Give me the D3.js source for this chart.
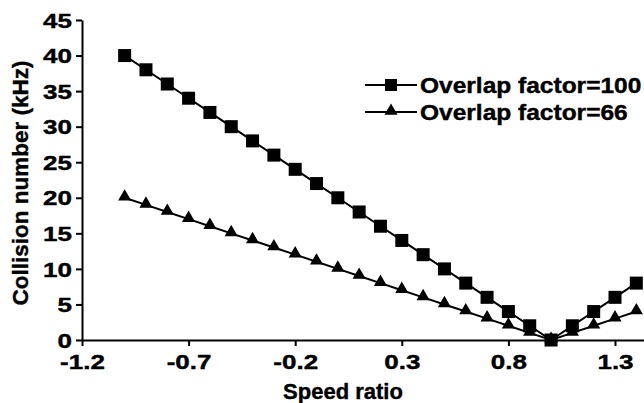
<!DOCTYPE html>
<html><head><meta charset="utf-8">
<script src="https://cdn.jsdelivr.net/npm/d3@7"></script>
<style>body{margin:0;background:#fff}svg{display:block}text{font-family:"Liberation Sans",Arial,sans-serif;font-weight:bold;fill:#000;stroke:#000;stroke-width:0.4px}</style>
</head><body><svg id="c" width="644" height="403"></svg>
<script>
const speedRatio = [-1.0,-0.9,-0.8,-0.7,-0.6,-0.5,-0.4,-0.3,-0.2,-0.1,0.0,0.1,0.2,0.3,0.4,0.5,0.6,0.7,0.8,0.9,1.0,1.1,1.2,1.3,1.4];
const overlap100 = [40,38,36,34,32,30,28,26,24,22,20,18,16,14,12,10,8,6,4,2,0,2,4,6,8];
const overlap66  = [20,19,18,17,16,15,14,13,12,11,10,9,8,7,6,5,4,3,2,1,0,1,2,3,4];
const xTicks = [-1.2,-0.7,-0.2,0.3,0.8,1.3];
const yTicks = [0,5,10,15,20,25,30,35,40,45];
const seriesNames = ["Overlap factor=100","Overlap factor=66"];

const svg = d3.select("#c");
const x = d3.scaleLinear().domain([-1.2,1.45]).range([82,82+2.65*213.2]);
const y = d3.scaleLinear().domain([0,45]).range([340,20]);
const SX = 1.3;

const xa = svg.append("g").attr("transform","translate(0,340)")
  .call(d3.axisBottom(x).tickValues(xTicks).tickSize(6).tickSizeOuter(0).tickFormat(d=>d.toFixed(1)));
const ya = svg.append("g").attr("transform","translate(82,0)")
  .call(d3.axisLeft(y).tickValues(yTicks).tickSize(6).tickSizeOuter(0));
[xa,ya].forEach(g=>{
  g.attr("font-size",null).attr("font-family",null);
  g.select(".domain").attr("stroke","#000").attr("stroke-width",2);
  g.selectAll(".tick line").attr("stroke","#000").attr("stroke-width",2);
  g.selectAll(".tick text").attr("fill","#000").style("font-size","20px").style("font-weight","bold").attr("transform",`scale(${SX},1)`);
});
xa.selectAll(".tick text").attr("dy","0.95em").attr("y",10).attr("x",0);
ya.selectAll(".tick text").attr("x",-10/SX).attr("dy","0.36em");

const line = d3.line().x((d,i)=>x(speedRatio[i])).y(d=>y(d));
const tri = d3.symbol().type(d3.symbolTriangle).size(75);

svg.append("path").datum(overlap66).attr("d",line).attr("fill","none").attr("stroke","#000").attr("stroke-width",2);
svg.append("path").datum(overlap100).attr("d",line).attr("fill","none").attr("stroke","#000").attr("stroke-width",2);

svg.selectAll(".tri").data(overlap66).join("path").attr("class","tri")
  .attr("d",tri).attr("transform",(d,i)=>`translate(${x(speedRatio[i])},${y(d)-1})`).attr("fill","#000");
svg.selectAll(".sq").data(overlap100).join("rect").attr("class","sq")
  .attr("x",(d,i)=>x(speedRatio[i])-6.5).attr("y",d=>y(d)-6.5).attr("width",13).attr("height",13).attr("fill","#000");

svg.append("text").attr("x",343).attr("y",399).attr("text-anchor","middle").style("font-size","22px").text("Speed ratio");
svg.append("text").attr("transform","translate(28,183) rotate(-90)").attr("text-anchor","middle").style("font-size","22.5px").text("Collision number (kHz)");

const lg = svg.append("g");
[0,1].forEach(k=>{
  const yy = k===0?85:112;
  lg.append("line").attr("x1",365).attr("x2",417).attr("y1",yy).attr("y2",yy).attr("stroke","#000").attr("stroke-width",2);
  if(k===0) lg.append("rect").attr("x",385).attr("y",yy-6).attr("width",12).attr("height",12).attr("fill","#000");
  else lg.append("path").attr("d",tri).attr("transform",`translate(391,${yy-1})`).attr("fill","#000");
  lg.append("text").attr("transform",`translate(420,${yy+7.5}) scale(1.14,1)`).style("font-size","21.5px").text(seriesNames[k]);
});
</script></body></html>
